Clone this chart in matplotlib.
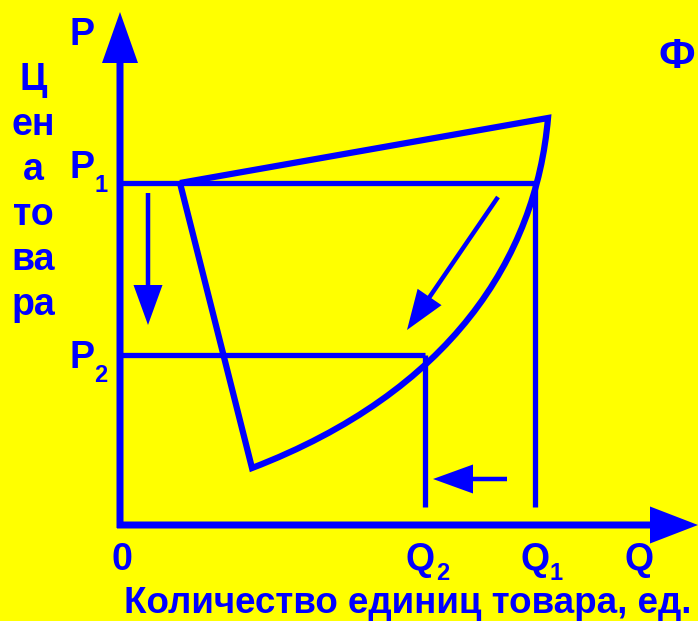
import matplotlib
matplotlib.use("Agg")
import matplotlib.pyplot as plt
from matplotlib.path import Path
from matplotlib.patches import PathPatch

# picture space: x to the right, y downwards (pixels of the original slide)
BLUE = '#0000ff'
YELLOW = '#ffff00'

origin = (120, 525)
y_axis_top = 12
x_axis_end = 698

p_levels = {'P1': 183, 'P2': 355}
q_levels = {'Q1': 535, 'Q2': 425}

# closed figure: left vertex, top corner, curve (cubic bezier) down to bottom vertex
left_vertex = (180, 183)
top_corner = (548, 118)
curve_ctrl = [(536, 258), (450, 392)]
bottom_vertex = (252, 468)

# movement arrows: (x0, y0, x1, y1)
arrows = [
    (148, 193, 148, 325),
    (498, 197, 407, 330),
    (507, 479, 433, 479),
]

ylabel_rows = ['Ц', 'ен', 'а', 'то', 'ва', 'ра']
xlabel = 'Количество единиц товара, ед.'


def main():
    plt.rcParams['font.family'] = ['Liberation Sans', 'DejaVu Sans']
    fig = plt.figure(figsize=(6.98, 6.21), dpi=100)
    fig.patch.set_facecolor(YELLOW)
    ax = fig.add_axes([0, 0, 1, 1])
    ax.set_facecolor(YELLOW)
    ax.set_xlim(0, 698)
    ax.set_ylim(621, 0)
    ax.axis('off')

    ox, oy = origin
    # axes with arrow heads
    ax.arrow(ox, oy + 3, 0, y_axis_top - oy - 3, width=7, head_width=36, head_length=51,
             length_includes_head=True, color=BLUE, lw=0)
    ax.arrow(ox - 3, oy, x_axis_end - ox + 3, 0, width=7, head_width=37, head_length=48,
             length_includes_head=True, color=BLUE, lw=0)

    # price levels
    ax.plot([ox, q_levels['Q1']], [p_levels['P1']] * 2, color=BLUE, lw=3.8, solid_capstyle='butt')
    ax.plot([ox, q_levels['Q2']], [p_levels['P2']] * 2, color=BLUE, lw=3.8, solid_capstyle='butt')
    # quantity levels
    ax.plot([q_levels['Q1']] * 2, [p_levels['P1'], 507], color=BLUE, lw=3.8, solid_capstyle='butt')
    ax.plot([q_levels['Q2']] * 2, [p_levels['P2'], 507], color=BLUE, lw=3.8, solid_capstyle='butt')

    verts = [left_vertex, top_corner, curve_ctrl[0], curve_ctrl[1], bottom_vertex, left_vertex]
    codes = [Path.MOVETO, Path.LINETO, Path.CURVE4, Path.CURVE4, Path.CURVE4, Path.LINETO]
    ax.add_patch(PathPatch(Path(verts, codes), fill=False, edgecolor=BLUE, lw=4.5,
                           joinstyle='miter'))

    for x0, y0, x1, y1 in arrows:
        ax.arrow(x0, y0, x1 - x0, y1 - y0, width=4.5, head_width=29, head_length=40,
                 length_includes_head=True, color=BLUE, lw=0)

    kw = dict(color=BLUE, fontweight='bold', fontsize=27)
    sub = dict(color=BLUE, fontweight='bold', fontsize=17)

    ax.text(82, 45, 'P', ha='center', va='baseline', **kw)
    for i, row in enumerate(ylabel_rows):
        ax.text(33, 90 + 45 * i, row, ha='center', va='baseline', **kw)

    ax.text(82, 178, 'P', ha='center', va='baseline', **kw)
    ax.text(101, 192, '1', ha='center', va='baseline', **sub)
    ax.text(82, 368, 'P', ha='center', va='baseline', **kw)
    ax.text(101, 382, '2', ha='center', va='baseline', **sub)

    ax.text(122, 570, '0', ha='center', va='baseline', **kw)
    ax.text(420, 570, 'Q', ha='center', va='baseline', **kw)
    ax.text(443, 580, '2', ha='center', va='baseline', **sub)
    ax.text(535, 570, 'Q', ha='center', va='baseline', **kw)
    ax.text(556, 580, '1', ha='center', va='baseline', **sub)
    ax.text(639, 570, 'Q', ha='center', va='baseline', **kw)

    ax.text(677, 68, 'Ф', ha='center', va='baseline', color=BLUE, fontweight='bold', fontsize=31)
    ax.text(408, 613, xlabel, ha='center', va='baseline', color=BLUE, fontweight='bold',
            fontsize=26.5)

    fig.savefig('out.png', dpi=100, facecolor=YELLOW)


if __name__ == '__main__':
    main()
